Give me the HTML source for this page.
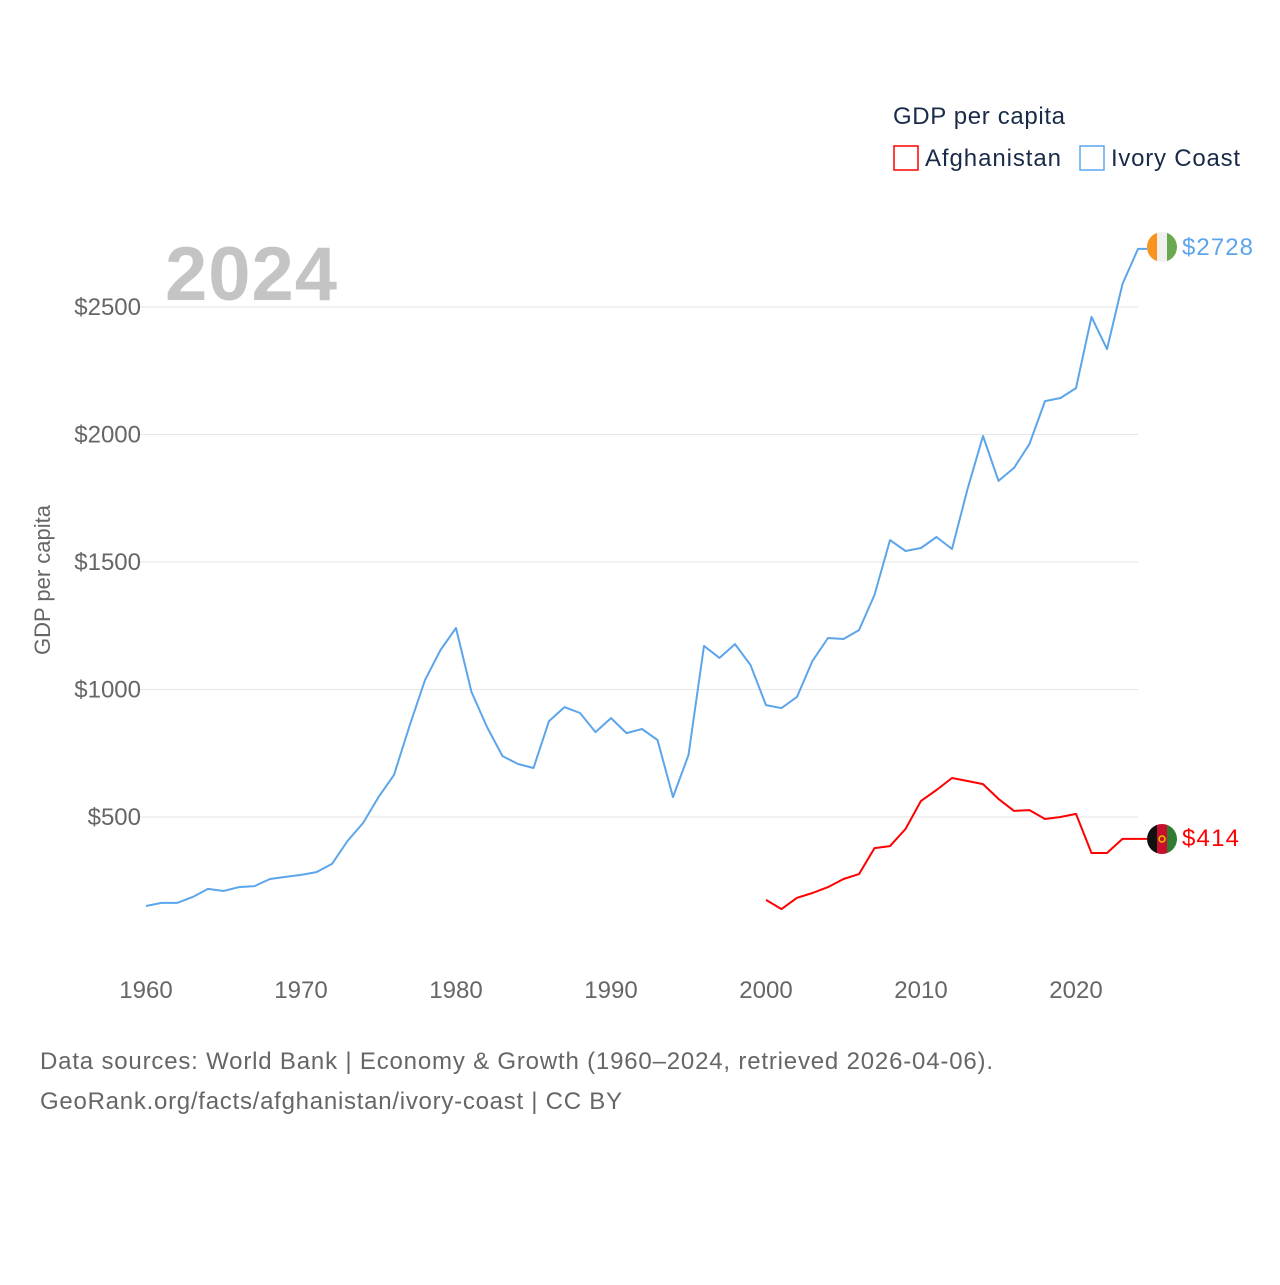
<!DOCTYPE html>
<html><head><meta charset="utf-8"><style>
body{margin:0;background:#fff;width:1280px;height:1280px;overflow:hidden;font-family:"Liberation Sans",sans-serif}
</style></head><body>
<svg id="chart" width="1280" height="1280" xmlns="http://www.w3.org/2000/svg" font-family="Liberation Sans, sans-serif">
<defs>
<clipPath id="c1"><circle cx="1162" cy="247" r="15"/></clipPath>
<clipPath id="c2"><circle cx="1162" cy="839" r="15"/></clipPath>
</defs>
<g id="grid"></g>
<text x="165" y="300" font-size="76" font-weight="bold" fill="#c4c4c4" textLength="172">2024</text>
<text transform="translate(50,580) rotate(-90)" text-anchor="middle" font-size="22" fill="#666">GDP per capita</text>
<g id="yticks"></g>
<g id="xticks"></g>
<g id="series"></g>
<g>
<text x="893" y="124" font-size="24" fill="#1a2b4a" textLength="172">GDP per capita</text>
<rect x="894" y="146" width="24" height="24" fill="none" stroke="red" stroke-width="1.5"/>
<text x="925" y="166" font-size="24" fill="#1a2b4a" textLength="136">Afghanistan</text>
<rect x="1080" y="146" width="24" height="24" fill="none" stroke="#5da5ea" stroke-width="1.5"/>
<text x="1111" y="166" font-size="24" fill="#1a2b4a" textLength="129">Ivory Coast</text>
</g>
<g clip-path="url(#c1)">
<rect x="1147" y="232" width="10" height="30" fill="#f7931e"/><rect x="1157" y="232" width="10" height="30" fill="#f0f0f0"/><rect x="1167" y="232" width="10" height="30" fill="#6aa84f"/>
</g>
<text x="1182" y="255" font-size="24" fill="#5da5ea" textLength="71">$2728</text>
<g clip-path="url(#c2)">
<rect x="1147" y="824" width="10" height="30" fill="#111"/><rect x="1157" y="824" width="10" height="30" fill="#c8102e"/><rect x="1167" y="824" width="10" height="30" fill="#2e7d32"/>
<circle cx="1162" cy="839" r="3" fill="none" stroke="#e6c200" stroke-width="1.5"/>
</g>
<text x="1182" y="846" font-size="24" fill="red" textLength="57">$414</text>
<text x="40" y="1069" font-size="24" fill="#666" textLength="953">Data sources: World Bank | Economy &amp; Growth (1960–2024, retrieved 2026-04-06).</text>
<text x="40" y="1109" font-size="24" fill="#666" textLength="582">GeoRank.org/facts/afghanistan/ivory-coast | CC BY</text>
</svg>
<script>
const yTicks=[500,1000,1500,2000,2500];
const xTicks=[1960,1970,1980,1990,2000,2010,2020];
const civStart=1960;
const civValues=[151,163,163,186,218,210,225,229,257,265,273,284,316,406,476,578,665,857,1037,1155,1241,990,853,739,708,692,876,931,908,833,888,829,845,802,578,743,1171,1124,1178,1096,939,927,971,1112,1202,1198,1233,1371,1586,1543,1555,1598,1551,1786,1994,1818,1869,1963,2131,2143,2182,2461,2335,2590,2728];
const afgStart=2000;
const afgValues=[175,139,183,202,225,257,276,378,386,453,563,606,653,641,629,571,524,527,492,500,512,359,359,414,414];
const NS='http://www.w3.org/2000/svg';
const X=yr=>146+(yr-1960)*15.5;
const Y=v=>944.5-v*0.255;
function mk(tag,attrs,parent){const e=document.createElementNS(NS,tag);for(const k in attrs)e.setAttribute(k,attrs[k]);document.getElementById(parent).appendChild(e);return e;}
yTicks.forEach(v=>{
 const l=mk('line',{x1:140,x2:1138,y1:Y(v),y2:Y(v),stroke:'#e6e6e6','stroke-width':1},'grid');
 
 
 const t=mk('text',{x:141,y:Y(v)+8,'text-anchor':'end','font-size':24,fill:'#666'},'yticks');
 t.textContent='$'+v;
 
 
});
xTicks.forEach(yr=>{
 const t=mk('text',{x:X(yr),y:998,'text-anchor':'middle','font-size':24,fill:'#666'},'xticks');
 t.textContent=yr;
 
 
});
function line(start,vals,color,name){
 let d=vals.map((v,i)=>(i?'L':'M')+X(start+i).toFixed(1)+','+Y(v).toFixed(1)).join(' ');
 d+=' L1147,'+Y(vals[vals.length-1]).toFixed(1);
 const p=mk('path',{d:d,fill:'none',stroke:color,'stroke-width':2,'stroke-linejoin':'round'},'series');
 
 
}
line(civStart,civValues,'#5da5ea','ivory-coast-line');
line(afgStart,afgValues,'red','afghanistan-line');
</script>
</body></html>
